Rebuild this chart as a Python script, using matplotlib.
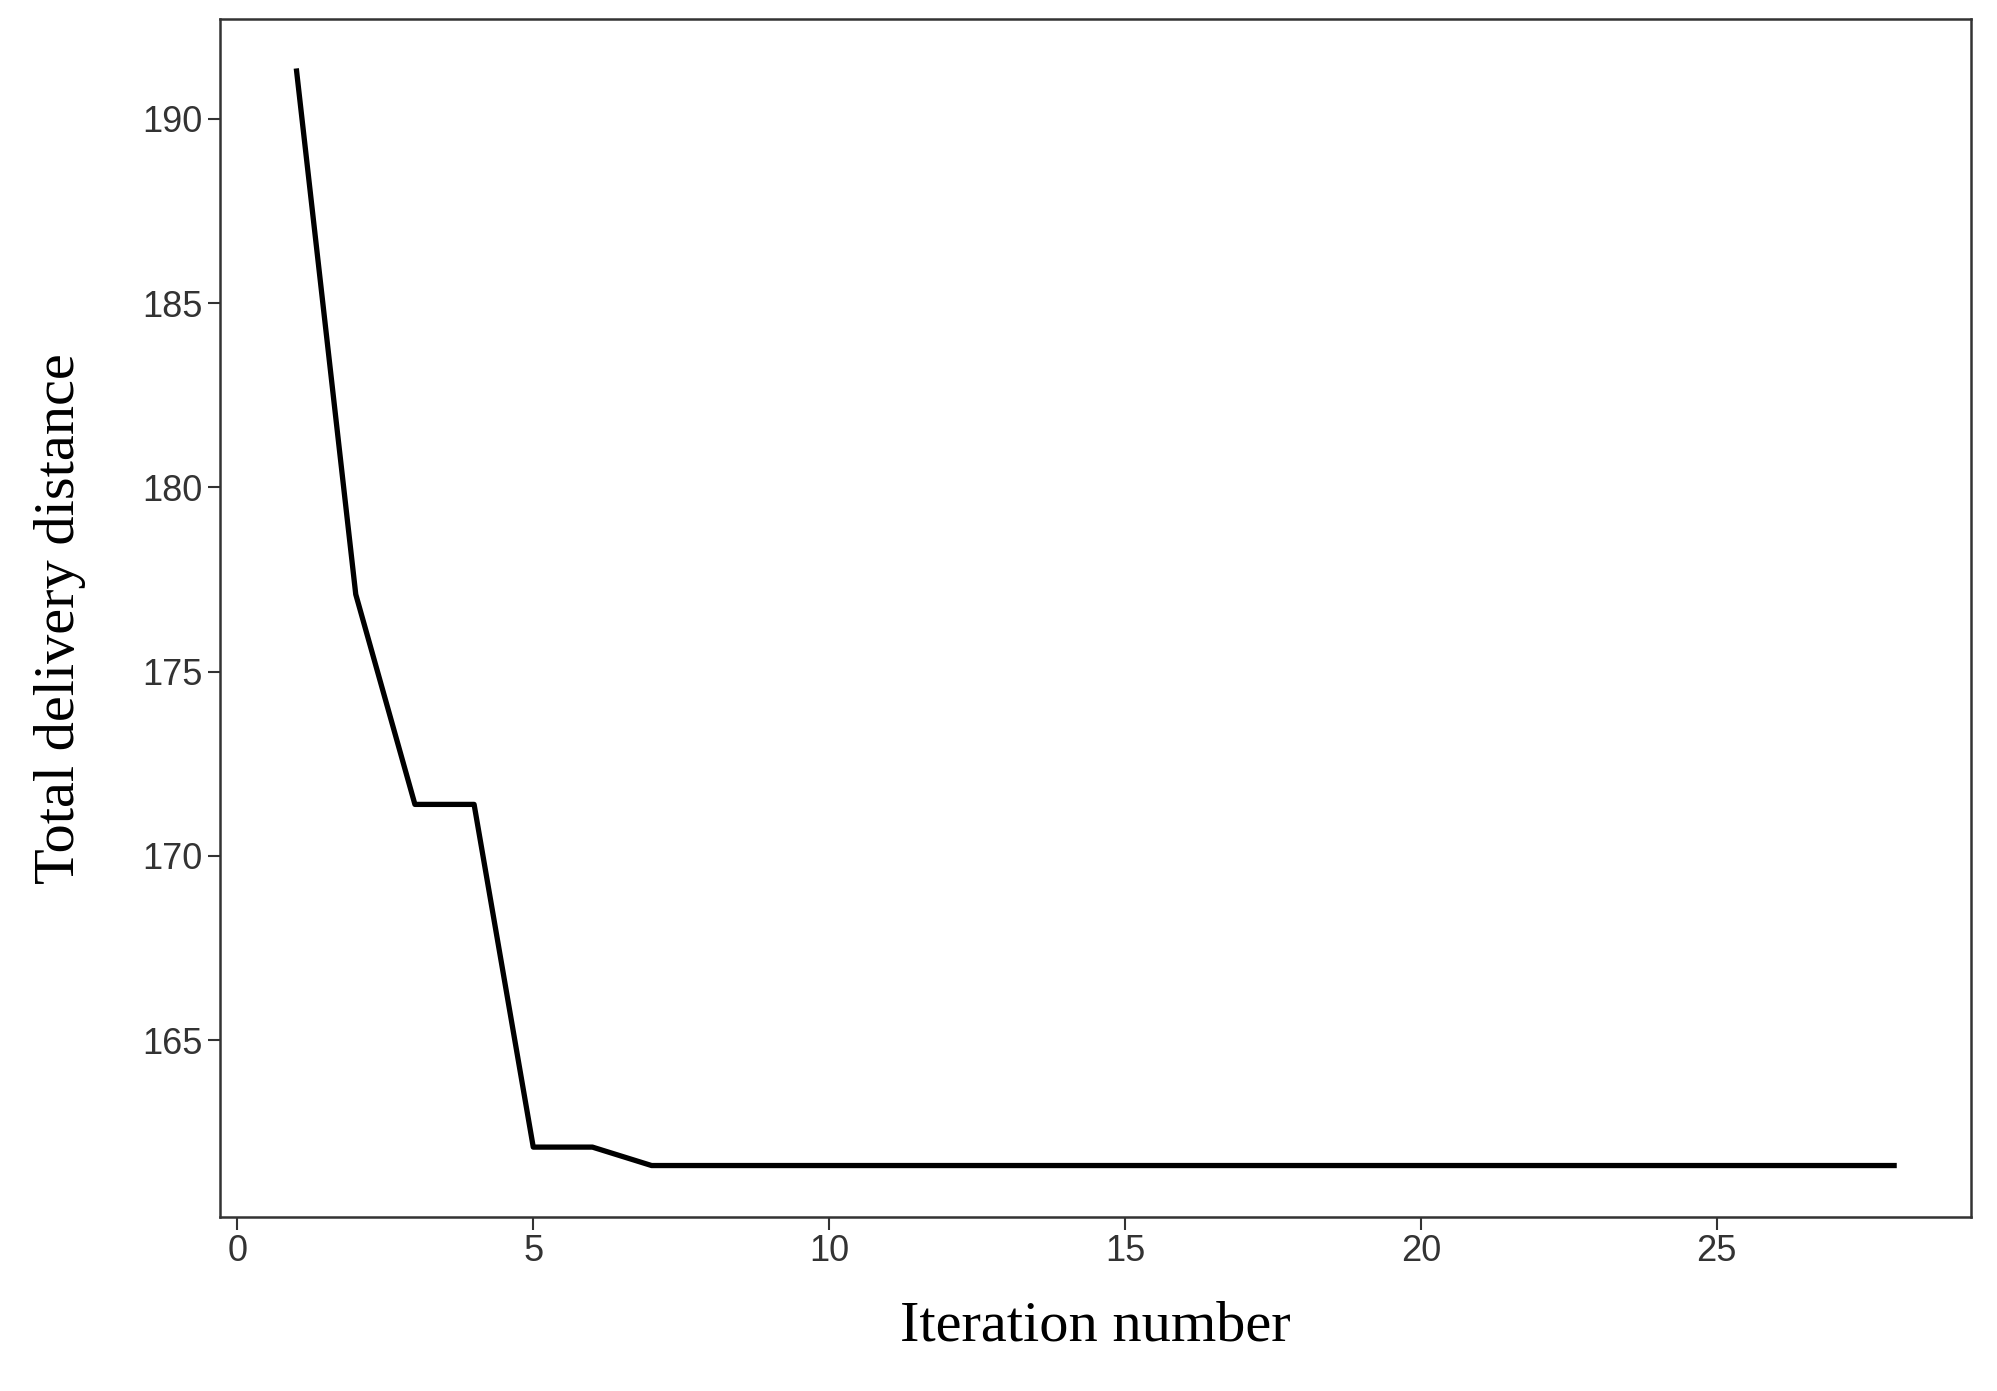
import matplotlib
matplotlib.use('Agg')
import matplotlib.pyplot as plt

iterations = list(range(1, 29))
distance = [191.3, 177.1, 171.4, 171.4, 162.1, 162.1] + [161.6] * 22
x_ticks = [0, 5, 10, 15, 20, 25]
y_ticks = [165, 170, 175, 180, 185, 190]

fig = plt.figure(figsize=(19.97, 13.91), dpi=100)
ax = fig.add_axes([0.11, 0.125, 0.877, 0.861])
ax.plot(iterations, distance, color='black', linewidth=3.8)
ax.set_xlim(-0.3, 29.3)
ax.set_ylim(160.2, 192.7)
ax.set_xticks(x_ticks)
ax.set_yticks(y_ticks)
ax.tick_params(direction='out', length=9, width=1.5, labelsize=26, colors='#333333')
for lbl in ax.get_xticklabels() + ax.get_yticklabels():
    lbl.set_family('Liberation Sans')
for s in ax.spines.values():
    s.set_linewidth(1.8)
    s.set_color('#333333')
ax.set_xlabel('Iteration number', family='Liberation Serif', fontsize=42, labelpad=22)
ax.set_ylabel('Total delivery distance', family='Liberation Serif', fontsize=42, labelpad=40)
fig.savefig('out.png', dpi=100)
